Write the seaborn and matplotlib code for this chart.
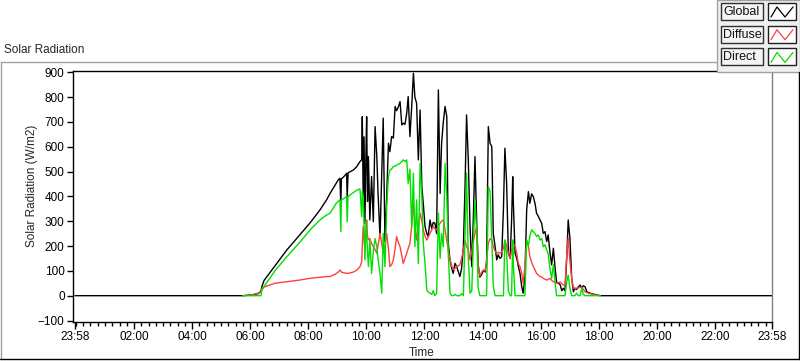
import numpy as np
import pandas as pd
import seaborn as sns
import matplotlib.pyplot as plt
from matplotlib.patches import Rectangle
from matplotlib.lines import Line2D

# time of day in hours, radiation in W/m2 (nan = no reading logged)
nan = np.nan
hours = [-0.034, 5.75, 6.06, 6.27, 6.37, 6.41, 6.48, 6.85, 7.26, 7.71, 8.06, 8.40, 8.63, 8.75, 8.95,
         9.03, 9.09, 9.12, 9.14, 9.23, 9.32, 9.34, 9.37, 9.55, 9.67, 9.78, 9.84, 9.86, 9.89, 9.92,
         9.95, 9.99, 10.01, 10.04, 10.07, 10.12, 10.18, 10.24, 10.30, 10.36, 10.40, 10.47, 10.53, 10.58, 10.64,
         10.70, 10.76, 10.81, 10.87, 10.93, 10.99, 11.04, 11.10, 11.16, 11.22, 11.27, 11.33, 11.39, 11.44, 11.50,
         11.56, 11.62, 11.67, 11.73, 11.79, 11.85, 11.91, 11.96, 12.02, 12.08, 12.13, 12.19, 12.25, 12.30, 12.36,
         12.42, 12.48, 12.54, 12.59, 12.65, 12.71, 12.77, 12.82, 12.88, 12.94, 12.99, 13.05, 13.11, 13.17, 13.22,
         13.28, 13.34, 13.40, 13.45, 13.51, 13.57, 13.63, 13.68, 13.74, 13.80, 13.85, 13.91, 13.97, 14.03, 14.09,
         14.14, 14.20, 14.26, 14.32, 14.37, 14.43, 14.49, 14.54, 14.60, 14.66, 14.72, 14.77, 14.83, 14.89, 14.95,
         15.00, 15.04, 15.06, 15.12, 15.18, 15.23, 15.29, 15.35, 15.40, 15.46, 15.52, 15.58, 15.63, 15.69, 15.75,
         15.81, 15.86, 15.92, 15.98, 16.04, 16.09, 16.15, 16.21, 16.26, 16.32, 16.38, 16.44, 16.50, 16.55, 16.61,
         16.67, 16.73, 16.78, 16.84, 16.90, 16.95, 17.01, 17.07, 17.13, 17.18, 17.24, 17.30, 17.36, 17.42, 17.47,
         17.53, 17.59, 17.70, 17.87, 18.05, 23.967]

global_wm2 = [0, 0, 3, 8, 18, 40, 62, 120, 184, 245, 293, 345, 386, 412, 450,
              466, 473, 365, 470, 480, 493, 393, 495, 506, 520, 540, 547, 721, 400, 640,
              292, 600, 721, 380, 560, 305, 480, 298, 681, 560, 420, 231, 500, 715, 218,
              400, 614, 580, 641, 635, 762, 745, 760, 782, 688, 695, 690, 735, 802, 641,
              760, 896, 800, 775, 547, 748, 439, 372, 278, 251, 238, 305, 270, 295, 292,
              250, 829, 412, 614, 700, 762, 721, 211, 144, 110, 90, 130, 117, 95, 77,
              110, 197, 450, 728, 547, 278, 117, 300, 560, 290, 125, 75, 85, 103, 95,
              130, 681, 614, 600, 251, 200, 144, 165, 150, 157, 350, 594, 453, 171, 150,
              300, 479, 380, 171, 150, 120, 90, 36, 10, 77, 345, 419, 372, 410, 399,
              370, 332, 320, 305, 290, 251, 258, 218, 245, 177, 124, 191, 110, 55, 50,
              45, 20, 30, 20, 151, 305, 231, 70, 16, 30, 25, 35, 43, 30, 40,
              36, 16, 10, 5, 0, 0]

diffuse_wm2 = [nan, 0, 3, 10, 16, 25, 35, 50, 56, 63, 70, 74, 77, 77, 88,
               95, 103, 100, 95, 92, 90, 90, 90, 95, 103, 117, 137, 200, 278, 230,
               197, 260, 305, 240, 225, 230, 210, 197, 185, 171, 200, 251, 210, 171, 200,
               251, 190, 117, 125, 144, 190, 238, 215, 197, 160, 130, 150, 171, 190, 211,
               280, 372, 290, 224, 280, 332, 300, 265, 240, 224, 235, 251, 265, 278, 270,
               265, 280, 292, 300, 305, 265, 220, 184, 144, 120, 105, 110, 117, 120, 125,
               150, 184, 224, 197, 185, 144, 180, 218, 250, 280, 120, 80, 95, 103, 100,
               144, 211, 230, 224, 197, 180, 171, 175, 171, 175, 190, 224, 197, 171, 150,
               180, 224, 210, 200, 171, 130, 117, 90, 50, 120, 224, 200, 157, 135, 117,
               103, 90, 83, 77, 75, 70, 66, 63, 65, 70, 62, 56, 52, 50, 52,
               55, 48, 43, 40, 164, 231, 137, 70, 30, 30, 30, 32, 33, 33, 25,
               16, 12, 8, 4, 0, nan]

direct_wm2 = [nan, 0, 0, 0, 0, 30, 38, 100, 157, 215, 265, 305, 325, 332, 370,
              380, 386, 258, 385, 392, 399, 298, 400, 415, 425, 430, 318, 420, 400, 280,
              144, 300, 251, 180, 117, 224, 90, 180, 230, 197, 150, 90, 10, 251, 117,
              359, 479, 506, 510, 520, 522, 525, 530, 533, 540, 547, 540, 547, 453, 510,
              278, 493, 197, 386, 130, 533, 400, 211, 130, 23, 15, 10, 5, 20, 0,
              10, 332, 150, 250, 197, 533, 400, 171, 10, 0, 0, 5, 0, 0, 0,
              8, 0, 251, 493, 150, 10, 20, 197, 386, 250, 30, 0, 0, 0, 0,
              0, 439, 420, 224, 40, 0, 0, 0, 0, 0, 0, 224, 170, 20, 0,
              0, 224, 130, 0, 0, 0, 0, 0, 0, 0, 224, 200, 240, 265, 258,
              250, 238, 245, 224, 230, 197, 205, 184, 170, 110, 70, 124, 50, 0, 0,
              0, 0, 0, 0, 56, 83, 30, 0, 0, 0, 10, 0, 0, 30, 5,
              0, 0, 0, 0, 0, nan]

series = ["Global", "Diffuse", "Direct"]
colors = ["#000000", "#ff4040", "#00e000"]
tick_hours = [-2 / 60, 2, 4, 6, 8, 10, 12, 14, 16, 18, 20, 22, 23 + 58 / 60]
tick_labels = ["23:58", "02:00", "04:00", "06:00", "08:00", "10:00", "12:00",
               "14:00", "16:00", "18:00", "20:00", "22:00", "23:58"]
y_ticks = list(range(-100, 901, 100))

sns.set_theme(style="white")
plt.rcParams['font.family'] = ['Liberation Sans', 'DejaVu Sans']
plt.rcParams['font.size'] = 8.5

W, H = 800, 361
fig = plt.figure(figsize=(8, 3.61), dpi=100, facecolor="white")


def fx(px):
    return px / W


def fy(py):
    return 1 - py / H


ax = fig.add_axes([fx(73), fy(321.5), fx(772) - fx(73), fy(70.5) - fy(321.5)])

df = pd.DataFrame({"hour": hours, "Global": global_wm2,
                   "Diffuse": diffuse_wm2, "Direct": direct_wm2})
for i, (name, col) in enumerate(zip(series, colors)):
    d = df[["hour", name]].dropna()
    sns.lineplot(data=d, x="hour", y=name, color=col, lw=1.0, ax=ax,
                 estimator=None, zorder=2 + i)

ax.set_xlim(-0.102, 23.968)
ax.set_ylim(-104, 907)
ax.set_xticks(tick_hours, tick_labels)
ax.set_xticks(np.arange(0, 24, 0.25), minor=True)
ax.set_yticks(y_ticks)
ax.tick_params(axis="x", which="major", bottom=True, length=5, width=1, color="black",
               pad=2, labelsize=8.5, labelcolor="black")
ax.tick_params(axis="x", which="minor", bottom=True, length=3, width=1, color="black")
ax.tick_params(axis="y", which="major", left=True, length=4, width=1, color="black",
               pad=2, labelsize=8.5, labelcolor="black")
for side in ["left", "bottom", "top"]:
    ax.spines[side].set_color("black")
    ax.spines[side].set_linewidth(1)
ax.spines["right"].set_color("#808080")
ax.spines["right"].set_linewidth(1)
ax.set_xlabel("")
ax.set_ylabel("Solar Radiation (W/m2)", fontsize=8.5)
ax.yaxis.set_label_coords((38 - 73) / 699, 0.54)
fig.text(fx(422), fy(353), "Time", ha="center", va="center", fontsize=8.5)
fig.text(fx(4), fy(50), "Solar Radiation", ha="left", va="center", fontsize=8.5)

# outer frame of the chart region
def fline(x0, y0, x1, y1, color):
    fig.add_artist(Line2D([fx(x0), fx(x1)], [fy(y0), fy(y1)], color=color, lw=1,
                          transform=fig.transFigure))


fline(1, 62, 717, 62, "#a0a0a0")
fline(1, 62, 1, 359, "#a0a0a0")
fline(0, 359, 800, 359, "black")
fline(799, 72, 799, 359, "black")

# plot legend in the top right corner
fig.add_artist(Rectangle((fx(717), fy(72)), fx(800) - fx(717), fy(0) - fy(72),
                         facecolor="#f0f0f0", edgecolor="#a0a0a0", lw=1,
                         transform=fig.transFigure))
for i, (name, col) in enumerate(zip(series, colors)):
    top = 3 + 22.7 * i
    fig.add_artist(Rectangle((fx(721), fy(top + 17)), fx(763) - fx(721), fy(top) - fy(top + 17),
                             facecolor="#f4f4f4", edgecolor="#303030", lw=1,
                             transform=fig.transFigure))
    fig.add_artist(Rectangle((fx(768), fy(top + 17)), fx(796) - fx(768), fy(top) - fy(top + 17),
                             facecolor="white", edgecolor="#202020", lw=1,
                             transform=fig.transFigure))
    zx = [771, 777, 785, 793]
    zy = [top + 14, top + 4, top + 14, top + 4]
    fig.add_artist(Line2D([fx(v) for v in zx], [fy(v) for v in zy], color=col, lw=0.9,
                          transform=fig.transFigure))
    fig.text(fx(723), fy(top + 9), name, ha="left", va="center", fontsize=9, color="#101010")

fig.savefig("out.png", dpi=100, facecolor="white")
